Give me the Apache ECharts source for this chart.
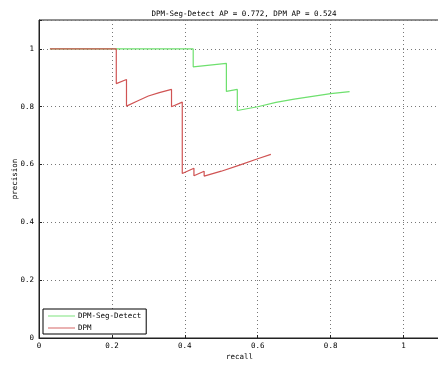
<!DOCTYPE html>
<html><head><meta charset="utf-8">
<script src="https://cdn.jsdelivr.net/npm/echarts@6/dist/echarts.min.js"></script>
<style>html,body{margin:0;padding:0;background:#fff}#c{width:438px;height:367px}</style>
</head><body><div id="c"></div>
<script>
const titleText = 'DPM-Seg-Detect AP = 0.772, DPM AP = 0.524';
const xTicks = [0, 0.2, 0.4, 0.6, 0.8, 1];
const yTicks = [0, 0.2, 0.4, 0.6, 0.8, 1];
const segRecall =    [0.03, 0.423, 0.423, 0.514, 0.514, 0.544, 0.544, 0.60, 0.65, 0.70, 0.75, 0.80, 0.852];
const segPrecision = [1.0,  1.0,   0.938, 0.950, 0.853, 0.860, 0.787, 0.800, 0.815, 0.826, 0.836, 0.845, 0.852];
const dpmRecall =    [0.03, 0.212, 0.212, 0.240, 0.240, 0.27, 0.30, 0.33, 0.3635, 0.3635, 0.393, 0.393, 0.425, 0.425, 0.453, 0.453, 0.50, 0.55, 0.60, 0.636];
const dpmPrecision = [1.0,  1.0,   0.880, 0.894, 0.802, 0.820, 0.837, 0.849, 0.860, 0.800, 0.816, 0.569, 0.587, 0.561, 0.577, 0.560, 0.577, 0.598, 0.620, 0.635];

const font = 'DejaVu Sans Mono';
const pair = (xs, ys) => xs.map((x, i) => [x, ys[i]]);
const chart = echarts.init(document.getElementById('c'), null, {renderer: 'canvas'});
const lineIcon = 'path://M0,0 L30,0 L30,1 L0,1 Z';
chart.setOption({
  animation: false,
  backgroundColor: '#fff',
  title: {text: titleText, left: 239, top: 5, textAlign: 'center',
    textStyle: {fontFamily: font, fontSize: 7.5, fontWeight: 'normal', color: '#000'}},
  grid: {left: 39, top: 20, width: 401, height: 318, show: true, borderColor: '#222', borderWidth: 1,
    outerBoundsMode: 'none', containLabel: false},
  xAxis: {type: 'value', min: 0, max: 1.1, interval: 0.2,
    name: 'recall', nameLocation: 'middle', nameGap: 15, nameMoveOverlap: false,
    nameTextStyle: {fontFamily: font, fontSize: 7.5, color: '#000'},
    axisLine: {lineStyle: {color: '#222'}},
    axisTick: {inside: true, length: 3, lineStyle: {color: '#222'}},
    axisLabel: {fontFamily: font, fontSize: 7.5, color: '#000', margin: 4,
      formatter: v => xTicks.includes(Math.round(v*10)/10) ? String(Math.round(v*10)/10) : ''},
    splitLine: {show: true, lineStyle: {color: '#777', type: [1, 3], width: 1}}},
  yAxis: {type: 'value', min: 0, max: 1.1, interval: 0.2,
    name: 'precision', nameLocation: 'middle', nameGap: 20, nameRotate: 90, nameMoveOverlap: false,
    nameTextStyle: {fontFamily: font, fontSize: 7.5, color: '#000'},
    axisLine: {show: true, lineStyle: {color: '#222'}},
    axisTick: {show: true, inside: true, length: 3, lineStyle: {color: '#222'}},
    axisLabel: {fontFamily: font, fontSize: 7.5, color: '#000', margin: 5,
      formatter: v => yTicks.includes(Math.round(v*10)/10) ? String(Math.round(v*10)/10) : ''},
    splitLine: {show: true, lineStyle: {color: '#777', type: [1, 3], width: 1}}},
  legend: {orient: 'vertical', left: 43, top: 309, itemWidth: 27, itemHeight: 2, itemGap: 4,
    padding: [3, 5, 2, 5], borderColor: '#000', borderWidth: 1, backgroundColor: '#fff',
    borderRadius: 0, icon: lineIcon,
    textStyle: {fontFamily: font, fontSize: 7.5, color: '#000', padding: [0, 0, 0, -2]},
    data: ['DPM-Seg-Detect', 'DPM']},
  series: [
    {name: 'DPM-Seg-Detect', type: 'line', data: pair(segRecall, segPrecision), showSymbol: false,
      lineStyle: {color: '#6ee06e', width: 1.2}, itemStyle: {color: '#6ee06e'}},
    {name: 'DPM', type: 'line', data: pair(dpmRecall, dpmPrecision), showSymbol: false,
      lineStyle: {color: '#d05454', width: 1.2}, itemStyle: {color: '#d05454'}}
  ]
});
</script></body></html>
